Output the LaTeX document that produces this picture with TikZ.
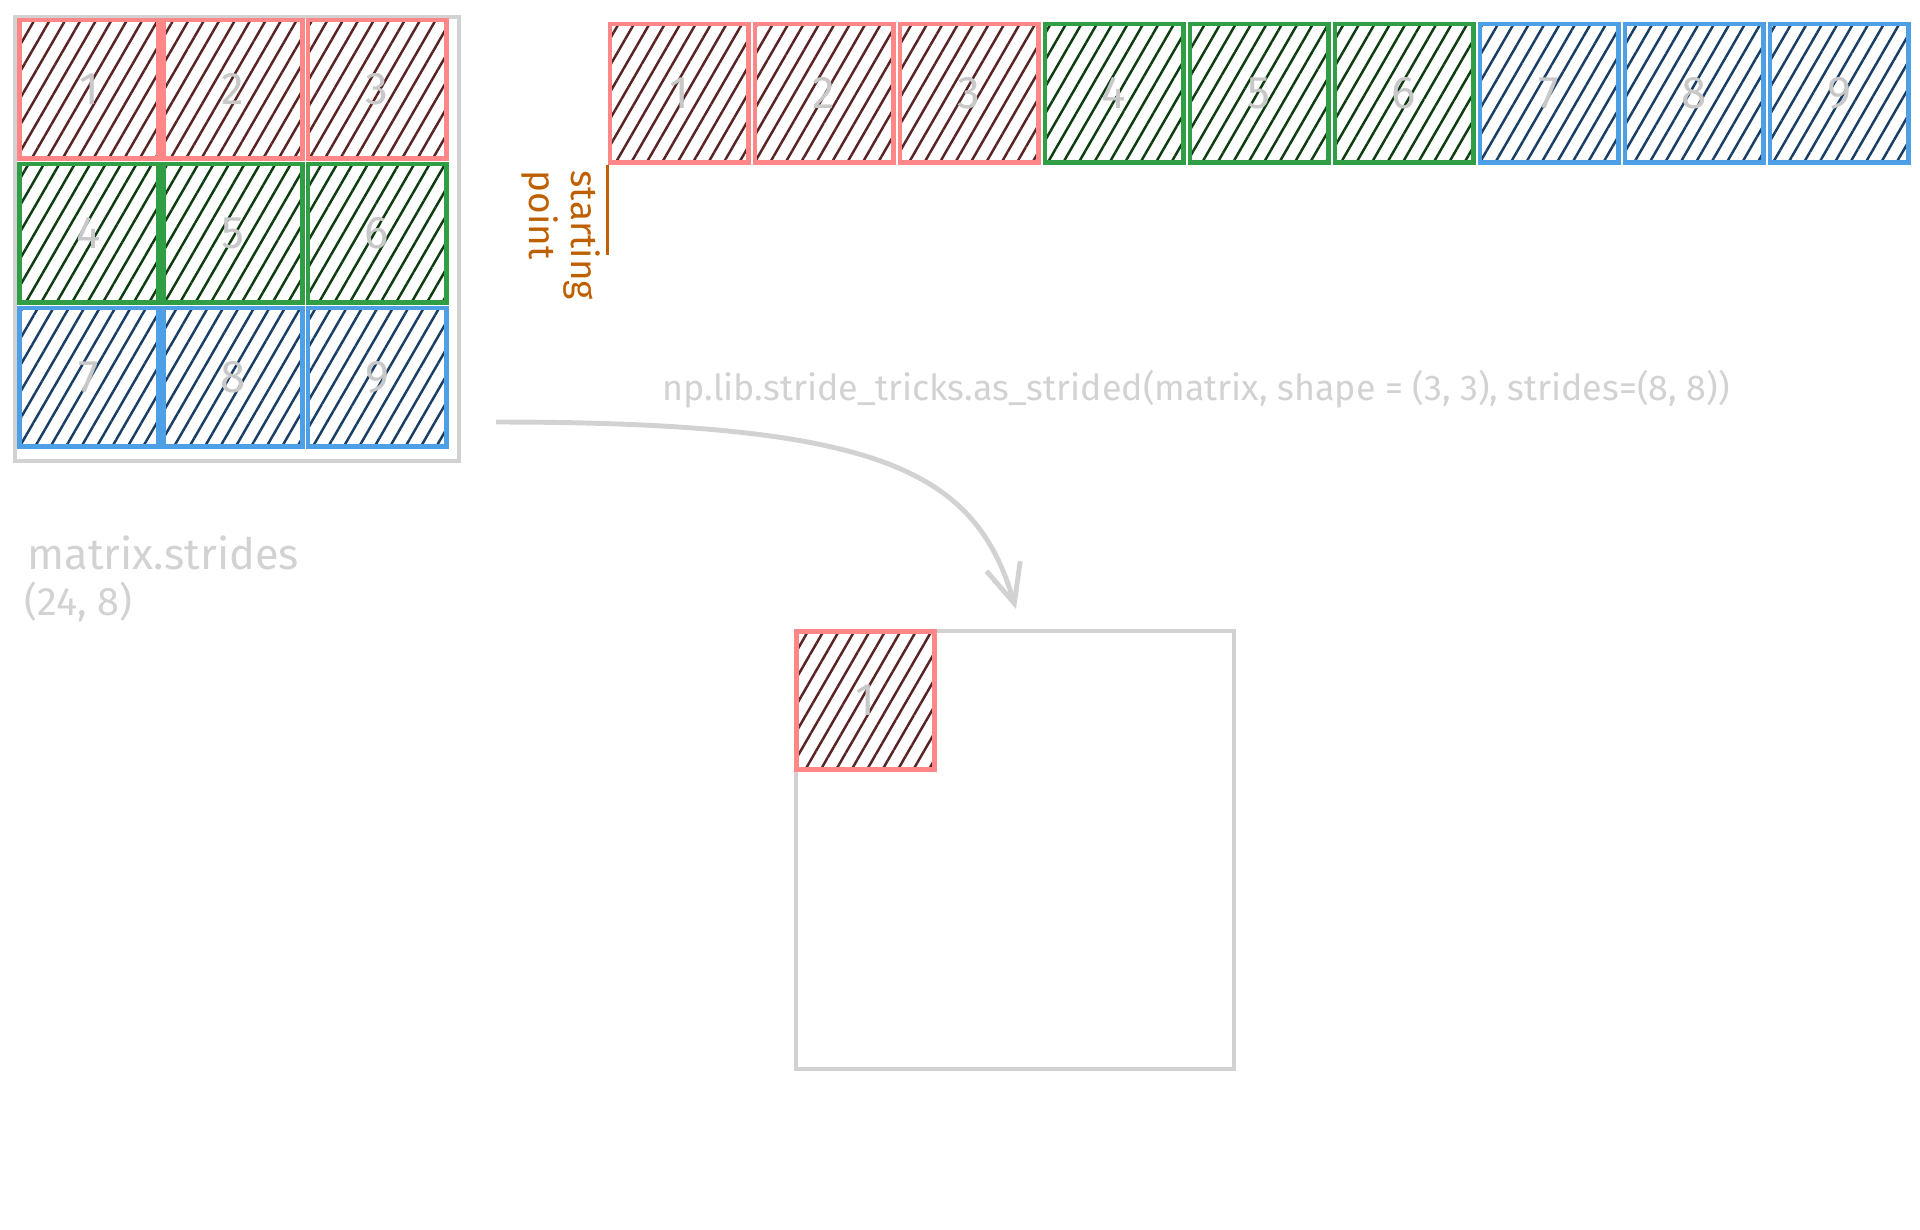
\documentclass[tikz,border=0pt]{standalone}
\usepackage{fontspec}
\setmainfont{Fira Sans}
\usepackage{xcolor}
\usetikzlibrary{
  positioning,
  patterns.meta,
  arrows.meta
}

\definecolor{redline}{RGB}{255,135,135}
\definecolor{redhatch}{RGB}{90,35,35}
\definecolor{greenline}{RGB}{47,158,68}
\definecolor{greenhatch}{RGB}{12,60,15}
\definecolor{blueline}{RGB}{77,160,230}
\definecolor{bluehatch}{RGB}{25,62,102}
\definecolor{sketchgray}{RGB}{210,210,210}
\definecolor{digitgray}{RGB}{200,200,200}
\definecolor{startorange}{RGB}{190,95,0}

\begin{document}
\begin{tikzpicture}[
  x=0.01cm, y=-0.01cm,
  every node/.style = {inner sep=0pt},
  cellbox/.style = {shape=rectangle, draw=#1line, line width=1.4pt,
    minimum width=1.38cm, minimum height=1.38cm,
    pattern={Lines[angle=60, distance=3.8pt, line width=0.7pt]},
    pattern color=#1hatch,
    text=digitgray, font=\fontsize{13}{13}\selectfont}]
    \tikzstyle{graybox}=[shape=rectangle, draw=sketchgray, line width=1.1pt]
    \tikzstyle{graytext}=[text=sketchgray, anchor=west]
    \tikzstyle{flowarrow}=[draw=sketchgray, line width=1.4pt,
      -{Straight Barb[length=11pt, width=10pt, line width=1.4pt]}]
  \useasboundingbox (0,0) rectangle (1920,1229);

  % matrix as 3x3
  \node[graybox, minimum size=4.43cm] (mat) at (237,239) {};
  \foreach \c [count=\r] in {red,green,blue}
    \foreach \k in {1,2,3} {
      \pgfmathtruncatemacro\n{3*(\r-1)+\k}
      \node[cellbox=\c] (m\n) at ({89+144*(\k-1)}, {89+144*(\r-1)}) {\n};
    }
  \node[graytext, font=\fontsize{12.3}{12.3}\selectfont] (strd) at (27,553) {matrix.strides};
  \node[graytext, font=\fontsize{11.3}{11.3}\selectfont] (strv) at (24,602) {(24, 8)};

  % matrix in memory
  \node[cellbox=red] (s1) at (679,93) {1};
  \foreach \n/\c in {2/red,3/red,4/green,5/green,6/green,7/blue,8/blue,9/blue} {
    \pgfmathtruncatemacro\p{\n-1}
    \node[cellbox=\c, right=0.02cm of s\p] (s\n) {\n};
  }
  \coordinate (startend) at ([yshift=-0.9cm]s1.south west);
  \draw[startorange, line width=0.9pt] (s1.south west) -- (startend);
  \node[rotate=-90, anchor=north west, align=left, text=startorange,
    font=\fontsize{10.5}{12}\selectfont] (startlbl) at (601,170) {starting\\point};

  % strided view
  \node[graytext, font=\fontsize{10.2}{10.2}\selectfont] (call) at (662,389)
    {np.lib.stride\_tricks.as\_strided(matrix, shape = (3, 3), strides=(8, 8))};
  \coordinate (arrfrom) at (496,422);
  \coordinate (arrto) at (1016,609);
  \draw[flowarrow] (arrfrom) .. controls (880,422) and (975,470) .. (arrto);
  \node[graybox, minimum size=4.38cm] (res) at (1015,850) {};
  \node[cellbox=red, anchor=north west] (r1) at (res.north west) {1};
\end{tikzpicture}
\end{document}
